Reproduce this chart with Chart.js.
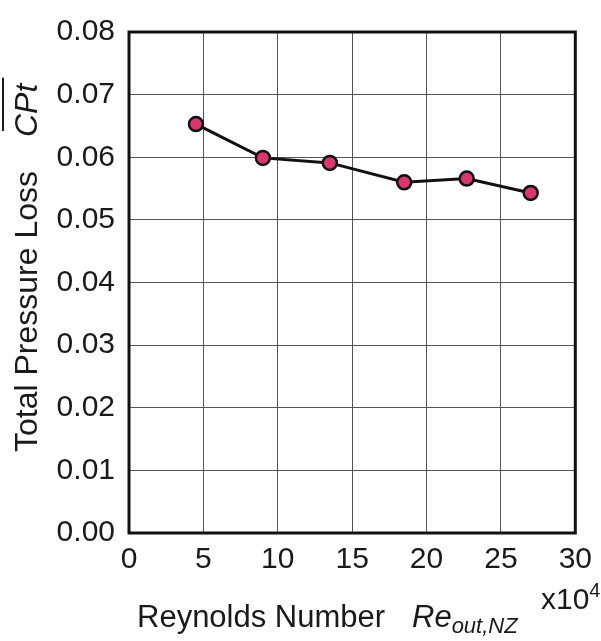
<!DOCTYPE html>
<html>
<head>
<meta charset="utf-8">
<script src="https://cdn.jsdelivr.net/npm/chart.js@4.4.1/dist/chart.umd.min.js"></script>
<style>
    html, body { margin: 0; padding: 0; background: #fff; }
    #wrap { width: 601px; height: 641px; }
</style>
</head>
<body>
<div id="wrap">
    <canvas id="lossChart" width="601" height="641"></canvas>
</div>
<script>
// Reynolds number (x10^4) and averaged total pressure loss coefficient
const reynolds = [4.5, 9.0, 13.5, 18.5, 22.7, 27.0];
const pressureLoss = [0.0653, 0.0599, 0.0591, 0.0560, 0.0566, 0.0543];

const xTicks = [0, 5, 10, 15, 20, 25, 30];
const yTicks = [0, 0.01, 0.02, 0.03, 0.04, 0.05, 0.06, 0.07, 0.08];

const FONT = '"Liberation Sans", Arial, sans-serif';

// frame + custom axis titles (italic symbol, subscript, overline)
const axisDecor = {
    id: 'axisDecor',
    afterDatasetsDraw(chart) {
        const { ctx, chartArea: a } = chart;
        ctx.save();
        ctx.strokeStyle = '#111';
        ctx.lineWidth = 3;
        ctx.strokeRect(a.left, a.top, a.right - a.left, a.bottom - a.top);
        ctx.restore();
    },
    afterDraw(chart) {
        const { ctx } = chart;
        ctx.save();
        ctx.fillStyle = '#1a1a1a';
        ctx.textBaseline = 'alphabetic';
        ctx.textAlign = 'left';

        // y title, rotated
        ctx.save();
        ctx.translate(37, 452);
        ctx.rotate(-Math.PI / 2);
        ctx.font = '32px ' + FONT;
        const yt = 'Total Pressure Loss';
        ctx.fillText(yt, 0, 0);
        let off = ctx.measureText(yt).width + 34;
        ctx.font = 'italic 32px ' + FONT;
        const sym = 'CPt';
        const sw = ctx.measureText(sym).width;
        ctx.fillText(sym, off, 0);
        ctx.fillRect(off + 6, -35, sw, 2);
        ctx.restore();

        // x title
        ctx.font = '31px ' + FONT;
        ctx.fillText('Reynolds Number', 137, 627);
        ctx.font = 'italic 31px ' + FONT;
        ctx.fillText('Re', 412, 627);
        const rw = ctx.measureText('Re').width;
        ctx.font = 'italic 22px ' + FONT;
        ctx.fillText('out,NZ', 412 + rw, 633);

        // multiplier
        ctx.font = '30px ' + FONT;
        ctx.fillText('x10', 541, 609);
        const mw = ctx.measureText('x10').width;
        ctx.font = '20px ' + FONT;
        ctx.fillText('4', 541 + mw, 597);
        ctx.restore();
    }
};

new Chart(document.getElementById('lossChart'), {
    type: 'scatter',
    data: {
        datasets: [{
            data: reynolds.map((x, i) => ({ x, y: pressureLoss[i] })),
            showLine: true,
            borderColor: '#111',
            borderWidth: 3,
            pointRadius: 7,
            pointBorderWidth: 2.5,
            pointBorderColor: '#111',
            pointBackgroundColor: '#dc3670',
            tension: 0
        }]
    },
    options: {
        responsive: false,
        animation: false,
        layout: { padding: { top: 23, right: 22, left: 0, bottom: 0 } },
        plugins: { legend: { display: false }, tooltip: { enabled: false } },
        scales: {
            x: {
                type: 'linear',
                min: 0, max: 30,
                afterFit(scale) { scale.height = 108; },
                afterBuildTicks(scale) { scale.ticks = xTicks.map(v => ({ value: v })); },
                grid: { color: '#555', lineWidth: 1, drawTicks: false },
                border: { display: false },
                ticks: {
                    padding: 9,
                    color: '#1a1a1a',
                    font: { family: FONT, size: 30 },
                    maxRotation: 0
                }
            },
            y: {
                type: 'linear',
                min: 0, max: 0.08,
                afterFit(scale) { scale.width = 129; },
                afterBuildTicks(scale) { scale.ticks = yTicks.map(v => ({ value: v })); },
                grid: { color: '#555', lineWidth: 1, drawTicks: false },
                border: { display: false },
                ticks: {
                    padding: 14,
                    color: '#1a1a1a',
                    font: { family: FONT, size: 30 },
                    callback: v => v.toFixed(2)
                }
            }
        }
    },
    plugins: [axisDecor]
});
</script>
</body>
</html>
